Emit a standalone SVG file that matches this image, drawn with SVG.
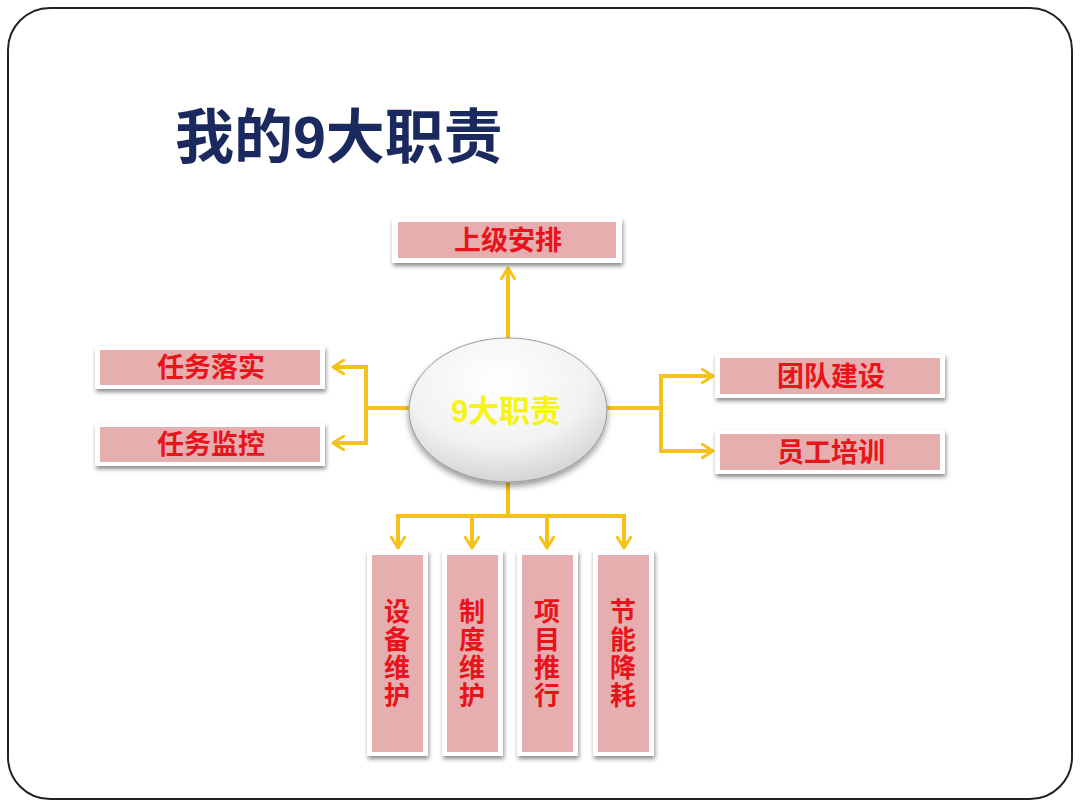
<svg xmlns="http://www.w3.org/2000/svg" width="1080" height="810" viewBox="0 0 1080 810">
<defs>
<style>
.frame{fill:#fff;stroke:#222;stroke-width:2}
.outer{fill:#fff;filter:url(#sh)}
.pink{fill:#e6aeae}
.lbl{font-family:"Liberation Sans","Noto Sans CJK SC",sans-serif;font-size:27px;font-weight:bold;fill:#e8141b;text-anchor:middle}
.vl{font-family:"Liberation Sans","Noto Sans CJK SC",sans-serif;font-size:26px;font-weight:bold;fill:#e8141b;text-anchor:middle}
.title{font-family:"Liberation Sans","Noto Sans CJK SC",sans-serif;font-size:59px;font-weight:bold;fill:#1b2a5e}
.conn{fill:none;stroke:#f4c21a;stroke-width:4;stroke-linejoin:miter}
.ctr{font-family:"Liberation Sans","Noto Sans CJK SC",sans-serif;font-size:31px;font-weight:bold;fill:#f6f21c;text-anchor:middle}
</style>
<filter id="sh" x="-10%" y="-20%" width="120%" height="150%">
<feDropShadow dx="1" dy="3" stdDeviation="2" flood-color="#000" flood-opacity="0.45"/>
</filter>
<filter id="esh" x="-20%" y="-20%" width="140%" height="150%">
<feDropShadow dx="0" dy="4" stdDeviation="3" flood-color="#000" flood-opacity="0.4"/>
</filter>
<radialGradient id="eg" cx="0.45" cy="0.3" r="0.75">
<stop offset="0" stop-color="#ffffff"/>
<stop offset="0.6" stop-color="#f2f2f2"/>
<stop offset="1" stop-color="#cfcfcf"/>
</radialGradient>
<marker id="ah" viewBox="0 0 12 12" refX="9" refY="6" markerWidth="4" markerHeight="4" orient="auto" markerUnits="strokeWidth">
<path d="M1,1 L9,6 L1,11" fill="none" stroke="#f4c21a" stroke-width="2.2" stroke-linecap="round" stroke-linejoin="round"/>
</marker>
</defs>
<rect x="0" y="0" width="1080" height="810" fill="#fff"/>
<rect class="frame" x="8" y="8" width="1064" height="791" rx="42" ry="42"/>
<text class="title" x="175" y="158">我的9大职责</text>

<g id="connectors">
<path class="conn" d="M508,338 V268" marker-end="url(#ah)"/>
<path class="conn" d="M410,408 H366 V367 H333" marker-end="url(#ah)"/>
<path class="conn" d="M366,408 V443 H333" marker-end="url(#ah)"/>
<path class="conn" d="M606,408 H661 V376 H713" marker-end="url(#ah)"/>
<path class="conn" d="M661,408 V451 H713" marker-end="url(#ah)"/>
<path class="conn" d="M508,482 V516"/>
<path class="conn" d="M398,516 H624"/>
<path class="conn" d="M398,514 V548" marker-end="url(#ah)"/>
<path class="conn" d="M472,516 V548" marker-end="url(#ah)"/>
<path class="conn" d="M547,516 V548" marker-end="url(#ah)"/>
<path class="conn" d="M624,514 V548" marker-end="url(#ah)"/>
</g>

<g id="center">
<ellipse cx="508" cy="410" rx="99" ry="72" fill="url(#eg)" stroke="#9a9a9a" stroke-width="1" filter="url(#esh)"/>
<text class="ctr" x="506" y="422">9大职责</text>
</g>

<g id="n-top">
<rect class="outer" x="392" y="218" width="230" height="45"/>
<rect class="pink" x="398" y="222" width="218" height="36"/>
<text class="lbl" x="508" y="250">上级安排</text>
</g>
<g id="n-left1">
<rect class="outer" x="95" y="346" width="230" height="43"/>
<rect class="pink" x="100" y="350" width="220" height="35"/>
<text class="lbl" x="211" y="377">任务落实</text>
</g>
<g id="n-left2">
<rect class="outer" x="95" y="423" width="230" height="43"/>
<rect class="pink" x="100" y="427" width="220" height="35"/>
<text class="lbl" x="211" y="454">任务监控</text>
</g>
<g id="n-right1">
<rect class="outer" x="715" y="354" width="230" height="44"/>
<rect class="pink" x="720" y="358" width="220" height="36"/>
<text class="lbl" x="831" y="386">团队建设</text>
</g>
<g id="n-right2">
<rect class="outer" x="715" y="430" width="230" height="44"/>
<rect class="pink" x="720" y="434" width="220" height="36"/>
<text class="lbl" x="831" y="462">员工培训</text>
</g>

<g id="n-b1">
<rect class="outer" x="367" y="550" width="61" height="206"/>
<rect class="pink" x="372" y="555" width="51" height="197"/>
<text class="vl" x="397" y="621">设</text><text class="vl" x="397" y="649">备</text><text class="vl" x="397" y="677">维</text><text class="vl" x="397" y="705">护</text>
</g>
<g id="n-b2">
<rect class="outer" x="442" y="550" width="61" height="206"/>
<rect class="pink" x="447" y="555" width="51" height="197"/>
<text class="vl" x="472" y="621">制</text><text class="vl" x="472" y="649">度</text><text class="vl" x="472" y="677">维</text><text class="vl" x="472" y="705">护</text>
</g>
<g id="n-b3">
<rect class="outer" x="517" y="550" width="61" height="206"/>
<rect class="pink" x="522" y="555" width="51" height="197"/>
<text class="vl" x="547" y="621">项</text><text class="vl" x="547" y="649">目</text><text class="vl" x="547" y="677">推</text><text class="vl" x="547" y="705">行</text>
</g>
<g id="n-b4">
<rect class="outer" x="593" y="550" width="61" height="206"/>
<rect class="pink" x="598" y="555" width="51" height="197"/>
<text class="vl" x="623" y="621">节</text><text class="vl" x="623" y="649">能</text><text class="vl" x="623" y="677">降</text><text class="vl" x="623" y="705">耗</text>
</g>
</svg>
